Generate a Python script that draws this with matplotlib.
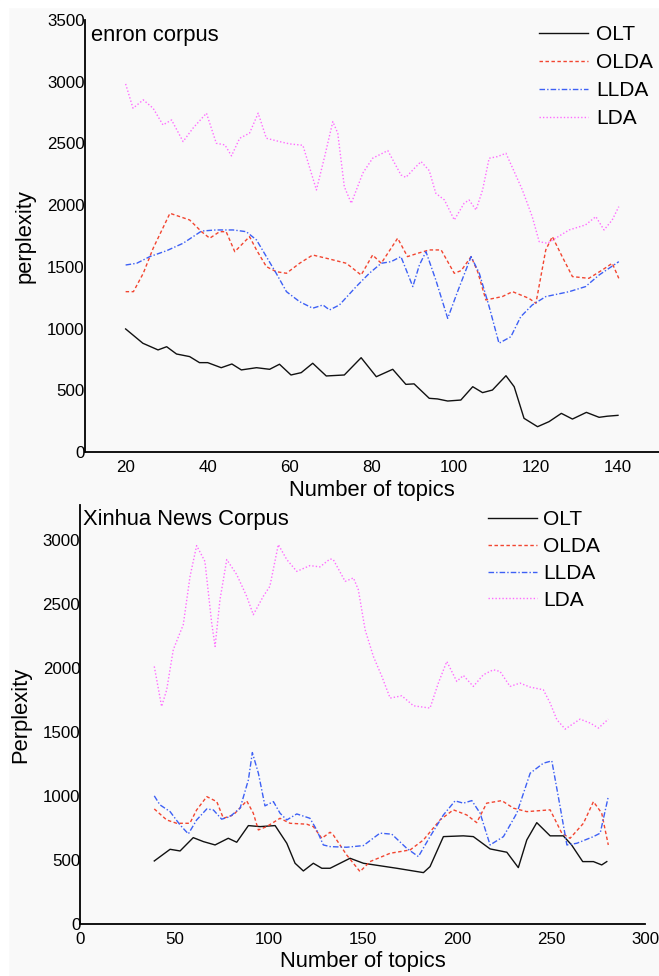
import matplotlib
matplotlib.use("Agg")
import matplotlib.pyplot as plt
from matplotlib.patches import Rectangle

plt.rcParams['font.family'] = ['Liberation Sans', 'DejaVu Sans']

# ---------------- data: enron corpus (top) ----------------
top_olt_x = [20, 24.2, 27.9, 30, 32.4, 35.6, 38, 40, 43.3, 45.9, 48.2, 51.9, 55.1, 57.5, 60.3, 62.8, 65.6, 68.9,
             73.3, 77.4, 81.1, 85.1, 88.3, 90.3, 94, 96, 98.5, 101.7, 104.6, 107, 109.4, 112.7, 114.7, 117.1,
             120.4, 123.2, 126.2, 128.9, 132.3, 135.4, 137.4, 140]
top_olt_y = [997, 881, 827, 853, 794, 773, 724, 724, 683, 713, 665, 683, 670, 711, 624, 643, 719, 616,
             624, 764, 610, 670, 548, 552, 435, 430, 413, 421, 529, 481, 502, 618, 529, 273,
             205, 246, 313, 267, 321, 281, 290, 297]

top_olda_x = [20, 21.9, 24.3, 26.7, 30.8, 33.2, 35.6, 38.5, 40.5, 42.9, 44.5, 46.6, 50.2, 51.9, 54.3, 56.7,
              59.2, 62.4, 65.6, 69.5, 73.8, 77.4, 80.2, 82.3, 86.3, 88.7, 91.2, 94, 96.9, 100.1, 101.8, 104.2,
              105.8, 107.8, 111.8, 114.3, 118.3, 120, 122.4, 124, 126.4, 128.9, 132.9, 136.2, 138.6, 140.2]
top_olda_y = [1299, 1299, 1448, 1650, 1934, 1907, 1880, 1785, 1732, 1785, 1785, 1623, 1745, 1637, 1502, 1461,
              1448, 1529, 1596, 1565, 1529, 1434, 1596, 1529, 1732, 1583, 1610, 1637, 1637, 1448, 1470, 1583,
              1461, 1232, 1259, 1299, 1245, 1205, 1637, 1745, 1583, 1421, 1407, 1475, 1529, 1407]

top_llda_x = [20, 22.7, 25.9, 30, 34, 38.5, 42, 46.2, 49.4, 51.9, 54.3, 56.7, 59.2, 62.4, 65.6, 68.1, 69.7,
              72.1, 76.2, 79.4, 82.3, 84.7, 87.1, 90, 91.6, 93.2, 95.6, 98.5, 100.9, 104.2, 106.2, 108.6, 111,
              113.9, 116.3, 119.1, 122.4, 128.1, 132.1, 135.4, 140.2]
top_llda_y = [1515, 1529, 1583, 1631, 1691, 1790, 1799, 1799, 1785, 1718, 1583, 1448, 1299, 1218, 1165, 1191, 1151,
              1191, 1340, 1448, 1529, 1542, 1583, 1340, 1515, 1623, 1394, 1083, 1299, 1583, 1448, 1178, 881,
              934, 1096, 1191, 1259, 1299, 1340, 1434, 1542]

top_lda_x = [20, 21.8, 24.3, 26.7, 29.1, 31.2, 34, 36.4, 39.7, 42.1, 44.2, 45.8, 47.8, 50.2, 52.3, 54.3, 57.5,
             60, 63.2, 66.5, 68.5, 70.5, 71.7, 73.3, 75, 77.8, 80.2, 83.9, 87.1, 88.3, 90.4, 92, 94, 95.6, 97.7,
             100.1, 102.5, 103.7, 105.4, 107, 108.6, 110.6, 112.7, 114.7, 116.7, 119.1, 120.8, 122.8, 124.8,
             128.1, 132.1, 134.6, 136.6, 138.6, 140.2]
top_lda_y = [2982, 2785, 2853, 2785, 2650, 2690, 2515, 2623, 2745, 2501, 2488, 2399, 2542, 2583, 2745, 2542, 2515,
             2496, 2485, 2123, 2393, 2677, 2583, 2150, 2015, 2259, 2380, 2442, 2245, 2225, 2299, 2353, 2280, 2096, 2042,
             1880, 2015, 2042, 1961, 2123, 2380, 2393, 2420, 2272, 2123, 1907, 1704, 1691, 1732,
             1799, 1840, 1907, 1799, 1880, 1988]

# ---------------- data: Xinhua News Corpus (bottom) ----------------
bot_olt_x = [39.3, 47.7, 53, 60, 65.4, 71.6, 78.6, 83.1, 89.3, 95.5, 103.5, 109.7, 114.1, 118.5, 123.8, 128.3,
             132.7, 143.3, 150.4, 168.1, 182.3, 185.8, 192.9, 203.5, 208.8, 217.7, 226.6, 232.7, 237.2, 242.5,
             249.6, 256.6, 261, 266.9, 272.6, 277, 279.7]
bot_olt_y = [492, 583, 570, 674, 643, 617, 669, 638, 768, 760, 768, 630, 474, 414, 474, 435,
             435, 513, 474, 435, 401, 448, 682, 688, 682, 586, 560, 440, 656, 791,
             688, 688, 617, 487, 487, 461, 487]

bot_olda_x = [39.3, 45.9, 51.2, 58.2, 61.8, 67.2, 72.5, 76, 81.3, 88.4, 91.9, 94.6, 99, 106.1, 111.4, 120.3,
              123.8, 128.3, 132.7, 134.4, 141.5, 148.6, 153.9, 164.6, 175.2, 182.3, 191.1, 198.2, 205.3, 210.6,
              215.9, 223.9, 230.1, 237.2, 249.6, 255.8, 260.2, 267.3, 272.6, 277, 280.5]
bot_olda_y = [898, 812, 786, 786, 890, 994, 955, 825, 851, 961, 865, 734, 760, 825, 786, 779,
              760, 669, 716, 695, 539, 409, 487, 552, 578, 656, 812, 891, 851, 791,
              943, 963, 904, 877, 891, 709, 669, 786, 955, 865, 617]

bot_llda_x = [39.3, 42.3, 47.7, 53, 57.4, 61.8, 67.2, 70.7, 75.1, 79.5, 84.9, 89.3, 91.4, 94.6, 98.1, 102.6,
              106.1, 109.7, 115, 122, 125.6, 129.1, 132.7, 141.5, 150.4, 159.2, 165.5, 173.4, 179.6, 185.8,
              192.9, 199.1, 203.5, 208, 212.4, 217.7, 224.8, 231.9, 239, 246, 250.5, 254.9, 258.5, 263.8,
              272.6, 276.2, 280.5]
bot_llda_y = [1000, 930, 877, 773, 703, 812, 898, 890, 818, 838, 904, 1125, 1338, 1177, 922, 955,
              865, 812, 859, 825, 734, 617, 604, 599, 612, 709, 701, 591, 526, 682,
              851, 961, 943, 963, 865, 617, 682, 865, 1177, 1255, 1273, 916, 617, 630,
              682, 709, 994]

bot_lda_x = [39.3, 43.2, 45.9, 49.4, 54.7, 58.3, 61.8, 66.2, 69.8, 71.6, 74.2, 77.8, 83.1, 88.4, 91.9, 97.2,
             100.7, 105.2, 109.7, 115, 122, 127.3, 132.7, 134.4, 140.7, 145.1, 147.7, 151.3, 155.7, 160.2,
             164.6, 170.8, 177, 185.8, 190.2, 194.7, 200, 203.5, 208.8, 214.1, 219.4, 223, 228.3, 233.6,
             238.9, 246, 249.6, 253.2, 257.6, 265.5, 270.9, 275.3, 280.5]
bot_lda_y = [2010, 1698, 1828, 2141, 2336, 2713, 2953, 2830, 2349, 2166, 2531, 2844, 2727, 2557, 2414, 2557,
             2635, 2961, 2844, 2752, 2797, 2787, 2849, 2844, 2674, 2701, 2609, 2297, 2088, 1932,
             1763, 1781, 1703, 1685, 1880, 2049, 1893, 1940, 1854, 1945, 1984, 1971, 1854, 1880,
             1849, 1828, 1724, 1594, 1521, 1599, 1568, 1529, 1599]

series_names = ['OLT', 'OLDA', 'LLDA', 'LDA']
top_xticks = [20, 40, 60, 80, 100, 120, 140]
top_yticks = [0, 500, 1000, 1500, 2000, 2500, 3000, 3500]
bot_xticks = [0, 50, 100, 150, 200, 250, 300]
bot_yticks = [0, 500, 1000, 1500, 2000, 2500, 3000]

# ---------------- styles ----------------
styles = [
    dict(color='#111111', linestyle='-', linewidth=1.0),
    dict(color='#f24530', linestyle=(0, (2.5, 1.8)), linewidth=1.0),
    dict(color='#3d60f5', linestyle=(0, (4, 1.5, 1, 1.5)), linewidth=1.0),
    dict(color='#ff6cff', linestyle=(0, (1, 1.5)), linewidth=1.0),
]
BG = '#f9f9f9'

W, H = 659, 976
fig = plt.figure(figsize=(W / 100, H / 100), dpi=100, facecolor=BG)
# white margins at top and left
fig.patches.append(Rectangle((0, 1 - 7 / H), 1, 7 / H, transform=fig.transFigure, color='white', zorder=-10))
fig.patches.append(Rectangle((0, 0), 8 / W, 1, transform=fig.transFigure, color='white', zorder=-10))

ax1 = fig.add_axes([84.6 / W, (H - 452) / H, (W - 84.6) / W, 432 / H])
ax2 = fig.add_axes([80.3 / W, (H - 924) / H, 564.7 / W, 419 / H])


def style_axes(ax, xlim, ylim, xticks, yticks, ylabel):
    ax.set_facecolor('none')
    ax.set_xlim(*xlim)
    ax.set_ylim(*ylim)
    ax.set_xticks(xticks)
    ax.set_yticks(yticks)
    for s in ['top', 'right']:
        ax.spines[s].set_visible(False)
    for s in ['left', 'bottom']:
        ax.spines[s].set_linewidth(1.3)
        ax.spines[s].set_color('black')
    ax.tick_params(axis='both', length=0, labelsize=12.2, colors='black')
    ax.tick_params(axis='y', pad=0)
    ax.tick_params(axis='x', pad=6)
    ax.set_xlabel('Number of topics', fontsize=15.8, labelpad=3)
    ax.set_ylabel(ylabel, fontsize=15.8, labelpad=8)


top_series = [(top_olt_x, top_olt_y), (top_olda_x, top_olda_y), (top_llda_x, top_llda_y), (top_lda_x, top_lda_y)]
bot_series = [(bot_olt_x, bot_olt_y), (bot_olda_x, bot_olda_y), (bot_llda_x, bot_llda_y), (bot_lda_x, bot_lda_y)]

for (x, y), name, st in zip(top_series, series_names, styles):
    ax1.plot(x, y, label=name, **st)
for (x, y), name, st in zip(bot_series, series_names, styles):
    ax2.plot(x, y, label=name, **st)

style_axes(ax1, (10, 150), (0, 3500), top_xticks, top_yticks, 'perplexity')
style_axes(ax2, (0, 300), (0, 3270), bot_xticks, bot_yticks, 'Perplexity')

ax1.text(0.011, 0.952, 'enron corpus', transform=ax1.transAxes, fontsize=15.8, va='baseline', ha='left')
ax2.text(0.005, 0.952, 'Xinhua News Corpus', transform=ax2.transAxes, fontsize=15.8, va='baseline', ha='left')

ax1.legend(loc='upper left', bbox_to_anchor=((539 - 84.6) / (W - 84.6), (452 - 25) / 432), frameon=False,
           fontsize=15, handlelength=2.35, handletextpad=0.4, labelspacing=0.44, borderpad=0, borderaxespad=0)
ax2.legend(loc='upper left', bbox_to_anchor=((488 - 80.3) / 564.7, (924 - 510) / 419), frameon=False,
           fontsize=15, handlelength=2.35, handletextpad=0.3, labelspacing=0.38, borderpad=0, borderaxespad=0)

fig.savefig('out.png', dpi=100, facecolor=BG)
